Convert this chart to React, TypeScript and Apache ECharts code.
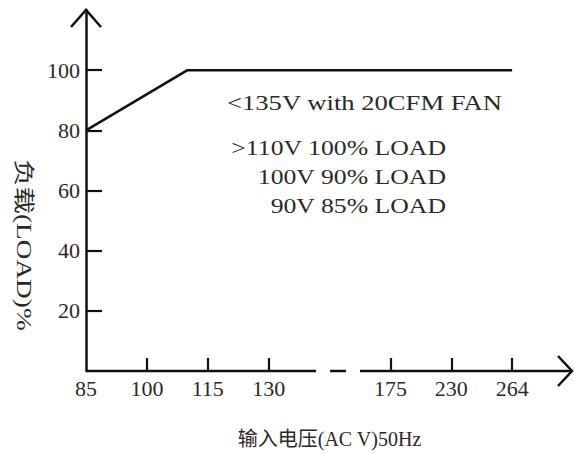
import React, { useEffect, useRef } from "react";
import * as echarts from "echarts";

// Axis tick labels (x axis is a broken, non-linear scale drawn by slot position)
const xTickLabels = ["85", "100", "115", "130", "", "175", "230", "264"];
const xTickVolts = [85, 100, 115, 130, 175, 230, 264];
const xTickSlots = [0, 1, 2, 3, 5, 6, 7];
const yTickValues = [20, 40, 60, 80, 100];

// Derating curve: input voltage (V) vs load (%)
const curveVolts = [85, 110, 264];
const curveLoad = [80, 100, 100];

const notes = [
  "<135V with 20CFM FAN",
  ">110V 100% LOAD",
  "100V 90% LOAD",
  "90V 85% LOAD",
];
const xName = "输入电压(AC V)50Hz";
const yName = "负载(LOAD)%";

const SERIF = "Liberation Serif, Noto Sans CJK SC, serif";
const INK = "#111111";
const TEXT = "#2a2a2a";

function voltToSlot(v: number): number {
  for (let i = 0; i < xTickVolts.length - 1; i++) {
    const a = xTickVolts[i];
    const b = xTickVolts[i + 1];
    if (v >= a && v <= b) {
      return xTickSlots[i] + ((v - a) / (b - a)) * (xTickSlots[i + 1] - xTickSlots[i]);
    }
  }
  return xTickSlots[xTickSlots.length - 1];
}

export default function App() {
  const ref = useRef<HTMLDivElement>(null);
  useEffect(() => {
    if (!ref.current) return;
    const chart = echarts.init(ref.current, null, { renderer: "svg" });
    const data = curveVolts.map((v, i) => [voltToSlot(v), curveLoad[i]]);
    chart.setOption({
      animation: false,
      backgroundColor: "#ffffff",
      grid: { left: 86, right: 1, top: 10, bottom: 79 },
      xAxis: {
        type: "value",
        min: 0,
        max: 8,
        interval: 1,
        splitLine: { show: false },
        axisLine: { show: false },
        axisTick: {
          show: true,
          inside: true,
          length: 13,
          lineStyle: { color: INK, width: 2.2 },
          customValues: [1, 2, 3, 5, 6, 7],
        },
        axisLabel: {
          customValues: [0, 1, 2, 3, 5, 6, 7],
          formatter: (v: number) => xTickLabels[Math.round(v)] ?? "",
          color: TEXT,
          fontFamily: SERIF,
          fontSize: 22,
          margin: 6,
        },
        name: xName,
        nameLocation: "middle",
        nameGap: 58,
        nameTextStyle: { color: TEXT, fontFamily: SERIF, fontSize: 20 },
      },
      yAxis: {
        type: "value",
        min: 0,
        max: 120,
        interval: 20,
        splitLine: { show: false },
        axisLine: { show: true, lineStyle: { color: INK, width: 2.5 } },
        axisTick: {
          show: true,
          inside: true,
          length: 16,
          lineStyle: { color: INK, width: 2.2 },
          customValues: yTickValues,
        },
        axisLabel: {
          customValues: yTickValues,
          color: TEXT,
          fontFamily: SERIF,
          fontSize: 22,
          margin: 6,
        },
      },
      series: [
        {
          type: "line",
          data,
          symbol: "none",
          lineStyle: { color: INK, width: 2.5 },
        },
      ],
    });

    const px = (slot: number, val: number) =>
      chart.convertToPixel({ xAxisIndex: 0, yAxisIndex: 0 }, [slot, val]) as number[];
    const y0 = px(0, 0)[1];
    const x0 = px(0, 0)[0];
    const top = px(0, 120)[1];
    const xEnd = px(8, 0)[0] - 1;
    const lineStyle = { stroke: INK, lineWidth: 2.5, fill: "none" };
    const hline = (a: number, b: number) => ({
      type: "line",
      shape: { x1: a, y1: y0, x2: b, y2: y0 },
      style: lineStyle,
    });
    const note = (i: number, x: number, y: number, align: string, sx: number) => ({
      type: "text",
      x,
      y,
      scaleX: sx,
      style: { text: notes[i], font: `22px ${SERIF}`, fill: TEXT, align, verticalAlign: "middle" },
    });
    chart.setOption({
      graphic: [
        hline(x0, px(3.78, 0)[0]),
        hline(px(4.01, 0)[0], px(4.27, 0)[0]),
        hline(px(4.5, 0)[0], xEnd),
        {
          type: "polyline",
          shape: { points: [[xEnd - 14, y0 - 15], [xEnd, y0], [xEnd - 14, y0 + 15]] },
          style: lineStyle,
        },
        {
          type: "polyline",
          shape: { points: [[x0 - 15, top + 17], [x0, top], [x0 + 15, top + 17]] },
          style: lineStyle,
        },
        note(0, 227, 102, "left", 1.21),
        note(1, 446, 148, "right", 1.17),
        note(2, 446, 177, "right", 1.17),
        note(3, 446, 206, "right", 1.17),
        {
          type: "text",
          x: 24,
          y: 245,
          rotation: -Math.PI / 2,
          scaleX: 1.3,
          style: { text: yName, font: `21px ${SERIF}`, fill: TEXT, align: "center", verticalAlign: "middle" },
        },
      ],
    });
    return () => chart.dispose();
  }, []);
  return (
    <div
      ref={ref}
      style={{ position: "fixed", left: 0, top: 0, width: 574, height: 454, background: "#fff" }}
    />
  );
}
